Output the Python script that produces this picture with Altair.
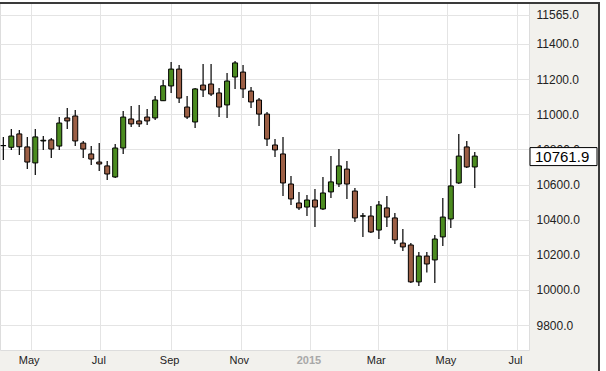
import altair as alt
import pandas as pd

# Weekly OHLC (first candle week of 2014-04-07)
opens = [10821, 10812, 10888, 10814, 10723, 10848, 10854, 10819, 10979, 10990,
         10836, 10774, 10728, 10706, 10643, 10808, 10973, 10962, 10984, 10979,
         11077, 11161, 11257, 11041, 10956, 11166, 11172, 11121, 11053, 11212,
         11240, 11132, 11081, 11001, 10825, 10774, 10603, 10495, 10472, 10512,
         10461, 10558, 10603, 10688, 10563, 10420, 10421, 10341, 10467, 10410,
         10267, 10256, 10046, 10193, 10171, 10302, 10404, 10609, 10814, 10700]
highs = [10871, 10916, 10910, 10871, 10916, 10876, 10865, 10984, 11036, 11024,
         10848, 10819, 10836, 10734, 10831, 11019, 11047, 11053, 11030, 11104,
         11195, 11297, 11280, 11104, 11150, 11286, 11286, 11149, 11235, 11303,
         11280, 11155, 11092, 11013, 10859, 10871, 10649, 10558, 10541, 10575,
         10643, 10762, 10802, 10734, 10580, 10438, 10478, 10506, 10535, 10438,
         10347, 10267, 10216, 10216, 10313, 10523, 10688, 10888, 10848, 10785]
lows = [10740, 10797, 10768, 10688, 10654, 10797, 10751, 10797, 10916, 10819,
        10751, 10711, 10677, 10626, 10637, 10774, 10927, 10927, 10939, 10967,
        11075, 11121, 11064, 10973, 10922, 11098, 11104, 10984, 10979, 11144,
        11092, 11036, 10933, 10819, 10757, 10535, 10484, 10455, 10421, 10358,
        10455, 10523, 10586, 10518, 10387, 10302, 10324, 10290, 10358, 10262,
        10222, 10040, 10023, 10100, 10040, 10250, 10353, 10603, 10694, 10580]
closes = [10822, 10876, 10815, 10728, 10871, 10852, 10802, 10950, 10962, 10848,
          10802, 10745, 10717, 10660, 10808, 10984, 10945, 10945, 10962, 11081,
          11162, 11257, 11092, 10984, 11144, 11138, 11115, 11041, 11189, 11292,
          11144, 11070, 11001, 10859, 10797, 10609, 10518, 10467, 10512, 10472,
          10552, 10615, 10706, 10603, 10410, 10422, 10330, 10484, 10415, 10285,
          10245, 10046, 10193, 10148, 10290, 10415, 10592, 10762, 10700, 10761.9]

y_ticks = [9800, 10000, 10200, 10400, 10600, 10800, 11000, 11200, 11400, 11565]
x_ticks = [(2014, 5), (2014, 7), (2014, 9), (2014, 11), (2015, 1), (2015, 3), (2015, 5), (2015, 7)]

GREEN = "#4b8b1f"
BROWN = "#9c5f45"
PANEL = "#f2f1ed"
FONT = "Liberation Sans"

dates = pd.date_range("2014-04-07", periods=len(opens), freq="7D")
df = pd.DataFrame({
    "date": dates,
    "open": opens,
    "high": highs,
    "low": lows,
    "close": closes,
})
df["dir"] = ["up" if c >= o else "down" for o, c in zip(opens, closes)]
last = df.tail(1).copy()
last["label"] = [f"{closes[-1]:.1f}"]

W, H = 529, 347

xscale = alt.Scale(domain=[alt.DateTime(year=2014, month=4, date=4, hours=2),
                           alt.DateTime(year=2015, month=7, date=11, hours=12)],
                   padding=0, nice=False)
yscale = alt.Scale(domain=[9658.5, 11633], nice=False, zero=False, padding=0)

xaxis = alt.Axis(
    values=[alt.DateTime(year=y, month=m, date=1) for y, m in x_ticks],
    labelExpr="month(datum.value) == 0 ? timeFormat(datum.value, '%Y') : timeFormat(datum.value, '%b')",
    labelColor={"condition": {"test": "month(datum.value) == 0", "value": "#a8a8a8"}, "value": "#222222"},
    labelFontWeight={"condition": {"test": "month(datum.value) == 0", "value": "bold"}, "value": "normal"},
    grid=True, gridColor="#e4e4e4", domain=False, ticks=False, labelOverlap=False,
    labelPadding=4, labelFontSize=11, labelFont=FONT, title=None, labelOffset=-2,
)
yaxis = alt.Axis(
    orient="right", values=y_ticks, format=".1f",
    grid=True, gridColor="#e4e4e4", domain=False, ticks=False, labelOverlap=False,
    labelPadding=7, labelFontSize=12, labelFont=FONT, labelColor="#222222",
    labelAlign="left", labelBaseline="middle", title=None,
)

base = alt.Chart(df)

wicks = base.mark_rule(color="black", strokeWidth=1.2).encode(
    x=alt.X("date:T", scale=xscale, axis=xaxis),
    y=alt.Y("low:Q", scale=yscale, axis=yaxis),
    y2="high:Q",
)

bodies = base.mark_bar(size=5, stroke="black", strokeWidth=1).encode(
    x=alt.X("date:T", scale=xscale, axis=xaxis),
    y=alt.Y("open:Q", scale=yscale, axis=yaxis),
    y2="close:Q",
    color=alt.Color("dir:N", scale=alt.Scale(domain=["up", "down"], range=[GREEN, BROWN]), legend=None),
)

tag_box = alt.Chart(last).mark_rect(fill="white", stroke="black", strokeWidth=1,
                                    yOffset=-8.5, y2Offset=9.5).encode(
    x=alt.value(530), x2=alt.value(597),
    y=alt.Y("close:Q", scale=yscale, axis=yaxis), y2="close:Q",
)
tag_text = alt.Chart(last).mark_text(align="left", baseline="middle", fontSize=15,
                                     font=FONT, color="black", dy=1).encode(
    x=alt.value(535),
    y=alt.Y("close:Q", scale=yscale, axis=yaxis),
    text="label:N",
)

one = alt.Data(values=[{"k": 1}])
top_strip = alt.Chart(one).mark_rect(fill="white").encode(
    x=alt.value(0), x2=alt.value(606), y=alt.value(-3), y2=alt.value(-1))
right_strip = alt.Chart(one).mark_rect(fill="white").encode(
    x=alt.value(600), x2=alt.value(606), y=alt.value(-3), y2=alt.value(368))
top_border = alt.Chart(one).mark_rule(color="#3a3a3a", strokeWidth=2).encode(
    x=alt.value(0), x2=alt.value(600), y=alt.value(0))
right_border = alt.Chart(one).mark_rule(color="#3a3a3a", strokeWidth=2).encode(
    x=alt.value(599), y=alt.value(0), y2=alt.value(368))

chart = alt.layer(
    wicks, bodies, tag_box, tag_text, top_strip, right_strip, top_border, right_border
).properties(
    width=W, height=H,
    autosize=alt.AutoSizeParams(type="none"),
    padding={"left": 0, "top": 3, "right": 606 - W, "bottom": 371 - 3 - H},
    background=PANEL,
).configure_view(
    fill="white", stroke="#dddddd",
)

chart.save("out.html", embed_options={"renderer": "svg", "actions": False})
